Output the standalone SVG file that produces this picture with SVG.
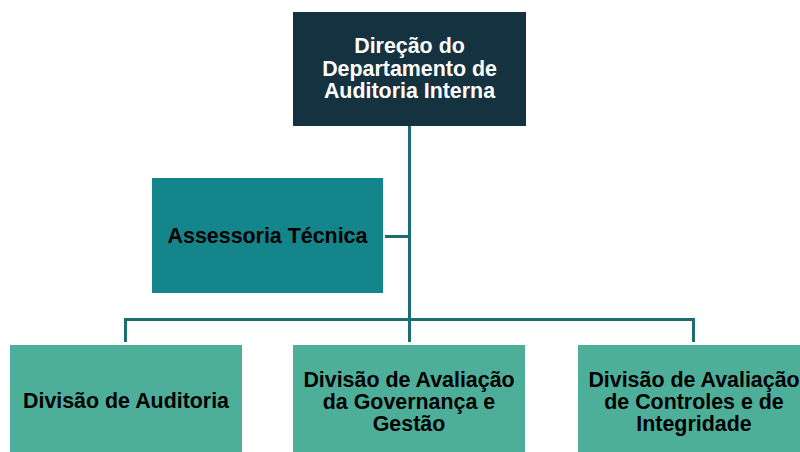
<svg xmlns="http://www.w3.org/2000/svg" width="800" height="452" viewBox="0 0 800 452">
<style>
.t{font-family:"Liberation Sans",Arial,sans-serif;font-weight:bold;font-size:21.4px;text-anchor:middle}
.w{fill:#ffffff}
.k{fill:#000000}
.c{stroke:#1b6c73;stroke-width:3;fill:none}
</style>
<rect width="800" height="452" fill="#ffffff"/>
<g id="connectors">
<path class="c" d="M409.5,126 V342"/>
<path class="c" d="M125.5,342 V319.5 H693.5 V342"/>
<path class="c" d="M385,236.5 H409.5"/>
</g>
<g id="direcao">
<rect x="293" y="12" width="233" height="114" fill="#153240"/>
<text class="t w" x="409.5" y="53">Direção do</text>
<text class="t w" x="409.5" y="75.5">Departamento de</text>
<text class="t w" x="409.5" y="98">Auditoria Interna</text>
</g>
<g id="assessoria">
<rect x="152" y="178" width="231" height="115" fill="#14858a"/>
<text class="t k" x="267.5" y="243">Assessoria Técnica</text>
</g>
<g id="div-auditoria">
<rect x="10" y="345" width="232" height="110" fill="#4daf9a"/>
<text class="t k" x="126" y="408">Divisão de Auditoria</text>
</g>
<g id="div-governanca">
<rect x="293" y="345" width="232" height="110" fill="#4daf9a"/>
<text class="t k" x="409" y="387">Divisão de Avaliação</text>
<text class="t k" x="409" y="409">da Governança e</text>
<text class="t k" x="409" y="431">Gestão</text>
</g>
<g id="div-controles">
<rect x="578" y="345" width="232" height="110" fill="#4daf9a"/>
<text class="t k" x="694" y="387">Divisão de Avaliação</text>
<text class="t k" x="694" y="409">de Controles e de</text>
<text class="t k" x="694" y="431">Integridade</text>
</g>
</svg>
